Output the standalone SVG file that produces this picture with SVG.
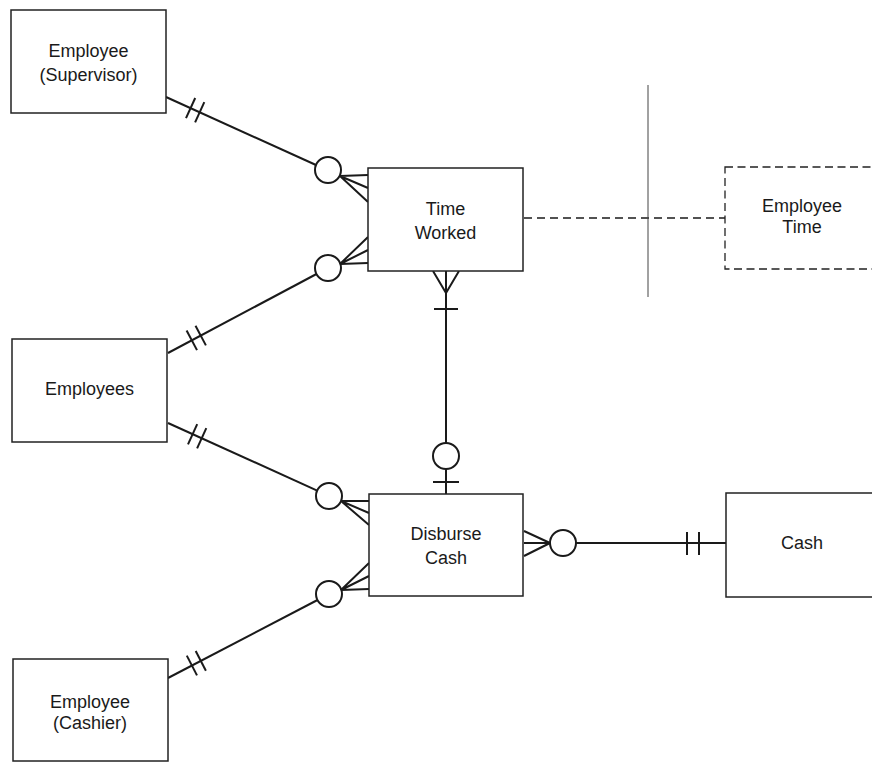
<svg xmlns="http://www.w3.org/2000/svg" width="872" height="763" viewBox="0 0 872 763">
<style>
.box{fill:#fff;stroke:#222;stroke-width:1.5}
.dbox{fill:#fff;stroke:#222;stroke-width:1.3;stroke-dasharray:8 4.5}
.t{font-family:"Liberation Sans",Arial,sans-serif;font-size:18px;fill:#1a1a1a;text-anchor:middle}
.ln{fill:none;stroke:#1a1a1a;stroke-width:2}
.cr{fill:#fff;stroke:#1a1a1a;stroke-width:2}
.dash{fill:none;stroke:#1a1a1a;stroke-width:1.3;stroke-dasharray:8 5}
.thin{fill:none;stroke:#444;stroke-width:1}
</style>
<rect width="872" height="763" fill="#fff"/>
<g id="connectors">
<!-- Supervisor to Time Worked -->
<line class="ln" x1="166" y1="97" x2="316" y2="165"/>
<line class="ln" x1="195.2" y1="98" x2="186" y2="118.2"/>
<line class="ln" x1="204.3" y1="102.1" x2="195.1" y2="122.3"/>
<circle class="cr" cx="328" cy="170" r="13"/>
<path class="ln" d="M340 176 L368 175 M340 176 L368 188 M340 176 L368 202"/>
<!-- Employees to Time Worked -->
<line class="ln" x1="168" y1="353" x2="316.5" y2="274"/>
<line class="ln" x1="186.6" y1="330.5" x2="197" y2="350.1"/>
<line class="ln" x1="195.5" y1="325.8" x2="205.9" y2="345.4"/>
<circle class="cr" cx="328" cy="268" r="13"/>
<path class="ln" d="M340 264 L368 237 M340 264 L368 250 M340 264 L368 263"/>
<!-- Employees to Disburse Cash -->
<line class="ln" x1="168" y1="423" x2="317.2" y2="490.6"/>
<line class="ln" x1="197.2" y1="424.1" x2="188" y2="444.3"/>
<line class="ln" x1="206.3" y1="428.2" x2="197.1" y2="448.4"/>
<circle class="cr" cx="329" cy="496" r="13"/>
<path class="ln" d="M341 501 L369 501 M341 501 L369 513 M341 501 L369 525"/>
<!-- Cashier to Disburse Cash -->
<line class="ln" x1="168" y1="678" x2="317.5" y2="600"/>
<line class="ln" x1="186.8" y1="655.6" x2="197" y2="675.4"/>
<line class="ln" x1="195.7" y1="651" x2="205.9" y2="670.8"/>
<circle class="cr" cx="329" cy="594" r="13"/>
<path class="ln" d="M341 590 L369 563 M341 590 L369 576 M341 590 L369 589"/>
<!-- Time Worked to Disburse Cash -->
<path class="ln" d="M446 293 L433 271 M446 293 L446 271 M446 293 L459 271"/>
<line class="ln" x1="446" y1="271" x2="446" y2="443"/>
<line class="ln" x1="434" y1="309" x2="458" y2="309"/>
<circle class="cr" cx="446" cy="456" r="13"/>
<line class="ln" x1="446" y1="469" x2="446" y2="494"/>
<line class="ln" x1="433" y1="482" x2="459" y2="482"/>
<!-- Disburse Cash to Cash -->
<path class="ln" d="M524 531 L550 543 M524 543 L550 543 M524 556 L550 543"/>
<circle class="cr" cx="563" cy="543" r="13"/>
<line class="ln" x1="576" y1="543" x2="726" y2="543"/>
<line class="ln" x1="687" y1="532" x2="687" y2="555"/>
<line class="ln" x1="699" y1="532" x2="699" y2="555"/>
<!-- Time Worked to Employee Time -->
<line class="dash" x1="524" y1="218" x2="725" y2="218"/>
<line class="thin" x1="648" y1="85" x2="648" y2="297"/>
</g>
<g id="supervisor">
<rect class="box" x="11" y="10" width="155" height="103"/>
<text class="t" x="88.5" y="57">Employee</text>
<text class="t" x="88.5" y="81">(Supervisor)</text>
</g>
<g id="time-worked">
<rect class="box" x="368" y="168" width="155" height="103"/>
<text class="t" x="445.5" y="215">Time</text>
<text class="t" x="445.5" y="239">Worked</text>
</g>
<g id="employee-time">
<rect class="dbox" x="725" y="167" width="170" height="102"/>
<text class="t" x="802" y="212">Employee</text>
<text class="t" x="802" y="233">Time</text>
</g>
<g id="employees">
<rect class="box" x="12" y="339" width="155" height="103"/>
<text class="t" x="89.5" y="395">Employees</text>
</g>
<g id="disburse-cash">
<rect class="box" x="369" y="494" width="154" height="102"/>
<text class="t" x="446" y="540">Disburse</text>
<text class="t" x="446" y="564">Cash</text>
</g>
<g id="cash">
<rect class="box" x="726" y="493" width="170" height="104"/>
<text class="t" x="802" y="549">Cash</text>
</g>
<g id="cashier">
<rect class="box" x="13" y="659" width="155" height="102"/>
<text class="t" x="90" y="708">Employee</text>
<text class="t" x="90" y="729">(Cashier)</text>
</g>
</svg>
